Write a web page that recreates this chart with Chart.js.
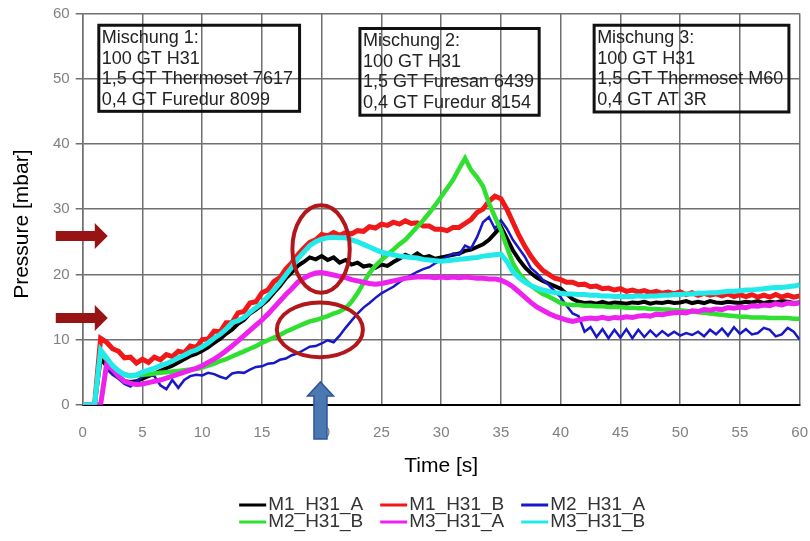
<!DOCTYPE html>
<html>
<head>
<meta charset="utf-8">
<title>Pressure curves</title>
<script src="https://cdn.jsdelivr.net/npm/chart.js@4.4.1/dist/chart.umd.min.js"></script>
<style>
  body { margin: 0; background: #fff; }
  #wrap { width: 810px; height: 541px; }
</style>
</head>
<body>
<div id="wrap"><canvas id="pressureChart" width="810" height="541"></canvas></div>
<script>
// time axis [s]
const time = [
  0, 0.5, 1, 1.5, 2, 2.5, 3, 3.5, 4, 4.5,
  5, 5.5, 6, 6.5, 7, 7.5, 8, 8.5, 9, 9.5,
  10, 10.5, 11, 11.5, 12, 12.5, 13, 13.5, 14, 14.5,
  15, 15.5, 16, 16.5, 17, 17.5, 18, 18.5, 19, 19.5,
  20, 20.5, 21, 21.5, 22, 22.5, 23, 23.5, 24, 24.5,
  25, 25.5, 26, 26.5, 27, 27.5, 28, 28.5, 29, 29.5,
  30, 30.5, 31, 31.5, 32, 32.5, 33, 33.5, 34, 34.5,
  35, 35.5, 36, 36.5, 37, 37.5, 38, 38.5, 39, 39.5,
  40, 40.5, 41, 41.5, 42, 42.5, 43, 43.5, 44, 44.5,
  45, 45.5, 46, 46.5, 47, 47.5, 48, 48.5, 49, 49.5,
  50, 50.5, 51, 51.5, 52, 52.5, 53, 53.5, 54, 54.5,
  55, 55.5, 56, 56.5, 57, 57.5, 58, 58.5, 59, 59.5,
  60
];

// pressure [mbar]
const m1_h31_a = [
  0, 0, 0, 7.0, 6.0, 5.0, 4.2, 3.6, 3.5, 3.6,
  4.0, 4.4, 4.8, 5.2, 5.6, 6.0, 6.5, 7.0, 7.5, 7.8,
  8.3, 8.8, 9.5, 10.1, 10.9, 11.5, 12.4, 13.0, 14.0, 14.6,
  15.3, 16.1, 17.2, 18.2, 19.4, 20.3, 21.3, 21.9, 22.6, 22.3,
  22.8, 22.2, 22.6, 21.8, 22.2, 21.5, 21.8, 21.2, 21.4, 21.0,
  21.5, 21.3, 21.9, 22.4, 23.0, 22.6, 23.2, 22.6, 22.8, 22.4,
  22.6, 22.8, 23.0, 23.2, 23.6, 23.8, 24.2, 24.6, 25.3, 26.3,
  27.3, 25.5, 23.7, 22.3, 21.1, 20.2, 19.5, 19.0, 18.6, 18.2,
  17.8, 17.0, 16.2, 15.8, 15.6, 15.7, 15.5, 15.8, 15.5, 15.7,
  15.6, 15.5, 15.7, 15.6, 15.8, 15.5, 15.7, 15.6, 15.8, 15.6,
  15.7, 15.9, 15.6, 15.8, 15.6, 15.9, 15.7, 15.6, 15.8, 15.7,
  15.6, 15.8, 15.7, 15.9, 15.6, 15.8, 15.7, 15.9, 15.8, 15.6,
  15.7
];
const m1_h31_b = [
  0, 0, 0, 10.2, 9.6, 8.6, 8.2, 7.2, 7.3, 6.4,
  7.0, 6.5, 7.3, 6.9, 7.7, 7.4, 8.2, 8.0, 9.0, 8.8,
  10.0, 10.1, 11.3, 11.2, 12.6, 12.6, 14.1, 14.3, 15.6, 15.8,
  17.2, 17.6, 18.9, 19.5, 20.8, 21.8, 23.0, 24.0, 24.9, 25.3,
  26.1, 25.9, 26.4, 26.0, 26.4, 26.2, 26.7, 26.6, 27.3, 27.1,
  27.7, 27.5, 28.0, 27.7, 28.2, 27.8, 27.9, 27.4, 27.4, 26.9,
  26.9, 26.7, 27.2, 27.2, 27.8, 28.4, 29.5, 30.0, 31.2, 32.0,
  31.6, 30.0, 28.0, 26.0, 24.3, 22.8, 21.6, 20.6, 20.0, 19.4,
  19.2, 18.8, 18.8, 18.4, 18.5, 18.1, 18.2, 17.8, 17.9, 17.6,
  17.8, 17.4, 17.6, 17.3, 17.5, 17.2, 17.4, 17.1, 17.3, 17.0,
  17.3, 16.9, 17.2, 16.8, 17.1, 16.8, 17.0, 16.7, 17.0, 16.6,
  16.9, 16.6, 16.9, 16.5, 16.8, 16.5, 16.9, 16.5, 16.8, 16.5,
  16.7
];
const m2_h31_a = [
  0, 0, 0, 0, 5.5, 4.6, 4.0, 3.2, 2.8, 3.6,
  4.3, 4.6, 4.4, 3.0, 2.4, 3.8, 2.6, 3.8, 4.4, 4.6,
  4.5, 4.9, 4.7, 4.3, 4.0, 4.8, 5.0, 4.9, 5.4, 5.8,
  5.9, 6.3, 6.4, 6.9, 7.1, 7.6, 7.9, 8.4, 8.9, 9.0,
  9.4, 9.9, 9.6, 10.6, 11.8, 12.9, 14.0, 14.9, 15.6, 16.4,
  17.1, 17.6, 18.1, 18.8, 19.4, 19.9, 20.4, 20.8, 21.1, 21.7,
  22.2, 22.7, 23.2, 23.0, 24.4, 24.0, 25.7, 28.0, 28.8, 27.0,
  28.3, 27.0, 25.3, 24.0, 22.7, 21.0, 20.2, 19.2, 18.4, 17.4,
  16.5, 15.2, 14.0, 13.6, 11.2, 11.9, 10.4, 11.6, 10.2, 11.5,
  10.3, 11.6, 10.2, 11.5, 10.4, 11.4, 10.5, 11.3, 10.6, 11.2,
  10.6, 11.0, 10.7, 11.2, 10.5, 11.5, 10.8, 11.7, 10.6, 11.9,
  10.9, 11.6, 10.8, 11.0, 11.8, 11.5, 10.5, 10.8, 11.8, 11.2,
  10.0
];
const m2_h31_b = [
  0, 0, 0, 8.2, 7.0, 6.0, 5.2, 4.7, 4.5, 4.5,
  4.6, 4.7, 4.8, 4.9, 5.0, 5.1, 5.2, 5.3, 5.4, 5.5,
  5.7, 6.0, 6.3, 6.7, 7.0, 7.4, 7.8, 8.2, 8.6, 9.0,
  9.5, 9.9, 10.3, 10.7, 11.2, 11.6, 12.0, 12.4, 12.8, 13.0,
  13.3, 13.6, 14.0, 14.3, 14.8, 15.8, 17.1, 18.7, 20.2, 21.3,
  22.2, 23.0, 23.8, 24.6, 25.3, 26.3, 27.3, 28.3, 29.4, 30.6,
  31.9, 33.2, 34.5, 36.2, 37.8, 36.0, 34.9, 33.5, 30.9, 28.8,
  26.8, 24.2, 21.7, 20.2, 19.1, 18.3, 17.6, 17.0, 16.6, 16.1,
  15.6, 15.4, 15.3, 15.3, 15.2, 15.2, 15.1, 15.1, 15.0, 15.0,
  15.0, 14.9, 14.9, 14.8, 14.8, 14.7, 14.7, 14.6, 14.6, 14.5,
  14.5, 14.4, 14.3, 14.2, 14.1, 14.0, 13.9, 13.8, 13.7, 13.6,
  13.5, 13.5, 13.4, 13.4, 13.4, 13.3, 13.3, 13.3, 13.3, 13.2,
  13.2
];
const m3_h31_a = [
  0, 0, 0, 0, 6.2, 5.4, 4.4, 3.6, 3.3, 3.1,
  3.2, 3.4, 3.6, 3.8, 4.1, 4.4, 4.7, 5.0, 5.3, 5.6,
  6.0, 6.5, 7.0, 7.6, 8.3, 9.0, 9.8, 10.6, 11.4, 12.2,
  13.0, 13.9, 14.9, 15.9, 16.9, 17.8, 18.8, 19.4, 19.9, 20.2,
  20.3, 20.1, 19.9, 19.7, 19.5, 19.2, 19.0, 18.8, 18.6, 18.5,
  18.6, 18.8, 19.0, 19.2, 19.4, 19.5, 19.6, 19.6, 19.6, 19.5,
  19.6, 19.5, 19.6, 19.5, 19.6, 19.5, 19.4, 19.4, 19.3, 19.3,
  19.1, 18.7, 18.1, 17.3, 16.5, 15.7, 15.0, 14.5, 14.0, 13.6,
  13.3, 13.0, 12.8, 13.0, 13.2, 13.3, 13.2, 13.4, 13.2, 13.4,
  13.3, 13.5, 13.4, 13.6, 13.7, 13.6, 13.9, 13.8, 14.0, 14.1,
  14.2, 14.1, 14.4, 14.3, 14.6, 14.5, 14.7, 14.6, 14.9, 14.8,
  15.0, 14.9, 15.2, 15.1, 15.3, 15.2, 15.5, 15.3, 15.6, 15.5,
  15.6
];
const m3_h31_b = [
  0, 0, 0, 8.4, 7.2, 6.0, 5.2, 4.6, 4.4, 4.6,
  5.0, 5.3, 5.6, 6.0, 6.3, 6.7, 7.2, 7.6, 8.1, 8.4,
  8.9, 9.5, 10.2, 10.8, 11.6, 12.6, 12.9, 13.4, 14.2, 14.9,
  15.6, 16.6, 17.6, 18.7, 19.9, 21.1, 22.4, 23.4, 24.4, 25.0,
  25.4, 25.6, 25.7, 25.6, 25.6, 25.3, 25.0, 24.6, 24.2, 23.8,
  23.4, 23.2, 23.0, 22.8, 22.7, 22.6, 22.5, 22.3, 22.2, 22.1,
  22.0, 22.1, 22.2, 22.3, 22.4, 22.5, 22.6, 22.8, 22.9, 23.0,
  23.1, 22.0, 20.4, 19.5, 18.8, 18.3, 17.9, 17.6, 17.4, 17.2,
  17.1, 17.0, 17.0, 16.9, 16.9, 16.8, 16.8, 16.7, 16.7, 16.6,
  16.6, 16.6, 16.6, 16.7, 16.6, 16.7, 16.7, 16.8, 16.8, 16.9,
  16.9, 17.0, 17.0, 17.1, 17.1, 17.2, 17.2, 17.3, 17.4, 17.4,
  17.5, 17.6, 17.6, 17.7, 17.8, 17.9, 18.0, 18.0, 18.1, 18.2,
  18.4
];

const seriesNames = ['M1_H31_A', 'M1_H31_B', 'M2_H31_A', 'M2_H31_B', 'M3_H31_A', 'M3_H31_B'];
const seriesValues = [m1_h31_a, m1_h31_b, m2_h31_a, m2_h31_b, m3_h31_a, m3_h31_b];
const timeTicks = [0, 5, 10, 15, 20, 25, 30, 35, 40, 45, 50, 55, 60];
const pressureTicks = [0, 10, 20, 30, 40, 50, 60];

// text of the three boxes
const mixtures = [
  ['Mischung 1:', '100 GT H31', '1,5 GT Thermoset 7617', '0,4 GT Furedur 8099'],
  ['Mischung 2:', '100 GT H31', '1,5 GT Furesan 6439', '0,4 GT Furedur 8154'],
  ['Mischung 3:', '100 GT H31', '1,5 GT Thermoset M60', '0,4 GT AT 3R']
];

const colors = ['#000000', '#f01818', '#1818c8', '#30e030', '#ee22ee', '#22eaea'];
const widths = [4, 5, 2.5, 4.5, 5, 5];
const FONT = '"Liberation Sans", Arial, sans-serif';

// box / marker placement in axis units
const boxPos = [
  { x0: 1.35, x1: 18.15, y0: 58.2, y1: 45.0 },
  { x0: 23.2, x1: 38.2, y0: 57.7, y1: 44.4 },
  { x0: 42.8, x1: 59.1, y0: 58.2, y1: 44.9 }
];
const ellipsePos = [
  { x: 19.95, y: 23.9, rx: 2.4, ry: 6.7 },
  { x: 19.85, y: 11.5, rx: 3.6, ry: 4.2 }
];
const redArrowPos = [{ x: 2.1, y: 25.9 }, { x: 2.1, y: 13.3 }];
const blueArrowPos = { x: 19.9, y: 3.5 };

const annotations = {
  id: 'annotations',
  afterDraw(chart) {
    const { ctx, scales: { x, y } } = chart;
    ctx.save();

    // composition boxes
    ctx.lineWidth = 3;
    ctx.strokeStyle = '#111';
    ctx.fillStyle = '#222';
    ctx.font = '18px ' + FONT;
    ctx.textBaseline = 'middle';
    boxPos.forEach((b, i) => {
      const left = x.getPixelForValue(b.x0), right = x.getPixelForValue(b.x1);
      const top = y.getPixelForValue(b.y0), bottom = y.getPixelForValue(b.y1);
      ctx.strokeRect(left, top, right - left, bottom - top);
      mixtures[i].forEach((line, k) => ctx.fillText(line, left + 3, top + 13 + k * 20.5));
    });

    // ellipses
    ctx.strokeStyle = '#b3171b';
    ctx.lineWidth = 4;
    ellipsePos.forEach(e => {
      const cx = x.getPixelForValue(e.x), cy = y.getPixelForValue(e.y);
      const rx = x.getPixelForValue(e.x + e.rx) - cx;
      const ry = cy - y.getPixelForValue(e.y + e.ry);
      ctx.beginPath();
      ctx.ellipse(cx, cy, rx, ry, 0, 0, Math.PI * 2);
      ctx.stroke();
    });

    // red arrows pointing right
    ctx.fillStyle = '#981414';
    redArrowPos.forEach(a => {
      const tip = x.getPixelForValue(a.x), cy = y.getPixelForValue(a.y);
      ctx.beginPath();
      ctx.moveTo(tip - 52, cy - 5);
      ctx.lineTo(tip - 13, cy - 5);
      ctx.lineTo(tip - 13, cy - 13);
      ctx.lineTo(tip, cy);
      ctx.lineTo(tip - 13, cy + 13);
      ctx.lineTo(tip - 13, cy + 5);
      ctx.lineTo(tip - 52, cy + 5);
      ctx.closePath();
      ctx.fill();
    });

    // blue arrow pointing up
    const bx = x.getPixelForValue(blueArrowPos.x), by = y.getPixelForValue(blueArrowPos.y);
    ctx.beginPath();
    ctx.moveTo(bx, by);
    ctx.lineTo(bx + 13, by + 14);
    ctx.lineTo(bx + 6.5, by + 14);
    ctx.lineTo(bx + 6.5, by + 57);
    ctx.lineTo(bx - 6.5, by + 57);
    ctx.lineTo(bx - 6.5, by + 14);
    ctx.lineTo(bx - 13, by + 14);
    ctx.closePath();
    ctx.fillStyle = '#4a78b0';
    ctx.fill();
    ctx.lineWidth = 1.5;
    ctx.strokeStyle = '#2f5597';
    ctx.stroke();

    ctx.restore();
  }
};

// legend in two rows of three under the chart
const bottomLegend = {
  id: 'bottomLegend',
  afterDraw(chart) {
    const { ctx, chartArea } = chart;
    const mid = (chartArea.left + chartArea.right) / 2;
    ctx.save();
    ctx.font = '19px ' + FONT;
    ctx.textBaseline = 'middle';
    chart.data.datasets.forEach((ds, i) => {
      const lx = mid - 202 + (i % 3) * 141;
      const ly = chart.height - 36 + Math.floor(i / 3) * 17;
      ctx.fillStyle = ds.borderColor;
      ctx.fillRect(lx, ly - 1.5, 27, 3);
      ctx.fillStyle = '#333';
      ctx.fillText(ds.label, lx + 29, ly);
    });
    ctx.restore();
  }
};

// y title: drawn by hand so it can sit a little below the middle like the original
const yTitle = {
  id: 'yTitle',
  afterDraw(chart) {
    const { ctx, chartArea } = chart;
    ctx.save();
    ctx.translate(22, (chartArea.top + chartArea.bottom) / 2 + 15);
    ctx.rotate(-Math.PI / 2);
    ctx.font = '21px ' + FONT;
    ctx.fillStyle = '#000';
    ctx.textAlign = 'center';
    ctx.textBaseline = 'middle';
    ctx.fillText('Pressure [mbar]', 0, 0);
    ctx.restore();
  }
};

const ctx = document.getElementById('pressureChart').getContext('2d');
const pressureChart = new Chart(ctx, {
  type: 'line',
  data: {
    datasets: seriesNames.map((name, i) => ({
      label: name,
      data: time.map((t, k) => ({ x: t, y: seriesValues[i][k] })),
      borderColor: colors[i],
      backgroundColor: colors[i],
      borderWidth: widths[i],
      pointRadius: 0,
      tension: 0,
      fill: false,
      order: -i
    }))
  },
  options: {
    responsive: false,
    animation: false,
    devicePixelRatio: 1,
    layout: { padding: { left: 47, right: 0, top: 0, bottom: 48 } },
    plugins: {
      legend: { display: false },
      tooltip: { enabled: false }
    },
    scales: {
      x: {
        type: 'linear',
        min: 0,
        max: 60,
        afterBuildTicks: axis => { axis.ticks = timeTicks.map(v => ({ value: v })); },
        ticks: { color: '#808080', font: { family: FONT, size: 15 }, padding: 2, maxRotation: 0 },
        grid: { color: '#707070', lineWidth: 1.5, tickLength: 17, tickColor: 'rgba(0,0,0,0)' },
        border: { color: '#000', width: 2 },
        title: { display: true, text: 'Time [s]', color: '#000', font: { family: FONT, size: 21 }, padding: { top: 10, bottom: 14 } }
      },
      y: {
        min: 0,
        max: 60,
        afterBuildTicks: axis => { axis.ticks = pressureTicks.map(v => ({ value: v })); },
        ticks: { color: '#808080', font: { family: FONT, size: 15, lineHeight: 1 }, padding: 6 },
        grid: { color: '#707070', lineWidth: 1.5, tickLength: 7 },
        border: { color: '#707070', width: 1.5 },
        title: { display: false }
      }
    }
  },
  plugins: [annotations, bottomLegend, yTitle]
});
</script>
</body>
</html>
